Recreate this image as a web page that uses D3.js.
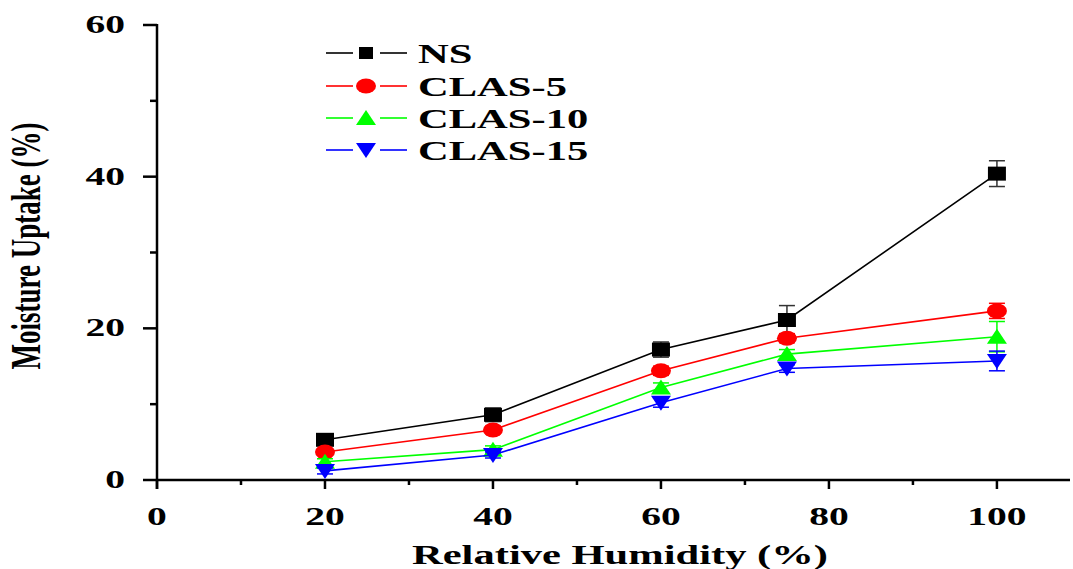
<!DOCTYPE html>
<html>
<head>
<meta charset="utf-8">
<script src="https://cdn.jsdelivr.net/npm/d3@7"></script>
<style>
  body { margin: 0; background: #fff; }
  svg { display: block; }
  text { font-family: "Liberation Serif", "Times New Roman", serif; font-weight: bold; fill: #000; }
</style>
</head>
<body>
<script>
// data
var humidity = [20, 40, 60, 75, 100];
var seriesNames = ["NS", "CLAS-5", "CLAS-10", "CLAS-15"];
var seriesColors = ["#000000", "#ff0000", "#00ff00", "#0000ff"];
var seriesShapes = ["square", "circle", "up", "down"];
var nsValues = [5.3, 8.6, 17.2, 21.1, 40.4];
var clas5Values = [3.7, 6.6, 14.4, 18.7, 22.3];
var clas10Values = [2.4, 4.0, 12.2, 16.6, 18.9];
var clas15Values = [1.2, 3.3, 10.2, 14.7, 15.7];
var nsErrors = [0.5, 0.9, 1.0, 1.9, 1.7];
var clas5Errors = [0.4, 0.5, 0.6, 0.6, 1.0];
var clas10Errors = [0.4, 0.5, 0.6, 0.6, 2.0];
var clas15Errors = [0.4, 0.4, 0.6, 0.5, 1.3];
var xTicks = [0, 20, 40, 60, 80, 100];
var xMinor = [10, 30, 50, 70, 90];
var yTicks = [0, 20, 40, 60];
var yMinor = [10, 30, 50];

var values = [nsValues, clas5Values, clas10Values, clas15Values];
var errors = [nsErrors, clas5Errors, clas10Errors, clas15Errors];

var width = 1073, height = 569;
var stretch = 1.52; // the picture is stretched sideways

var svg = d3.select("body").append("svg")
    .attr("width", width)
    .attr("height", height);

var x = d3.scaleLinear().domain([0, 108.7]).range([157, 1070]);
var y = d3.scaleLinear().domain([0, 60]).range([480, 25]);

// marker paths, centred at 0,0
function markerPath(shape) {
    if (shape == "square") return "M-9,-7H9V7H-9Z";
    if (shape == "up") return "M0,-8L10,7H-10Z";
    if (shape == "down") return "M0,8L10,-7H-10Z";
    return null;
}
function addMarker(g, shape, color) {
    if (shape == "circle") {
        return g.append("ellipse").attr("rx", 10).attr("ry", 7.5).attr("fill", color);
    }
    return g.append("path").attr("d", markerPath(shape)).attr("fill", color);
}

// axes
var axisG = svg.append("g").attr("class", "axes");
axisG.append("line")
    .attr("x1", x(0)).attr("x2", 1070)
    .attr("y1", y(0)).attr("y2", y(0))
    .attr("stroke", "#000").attr("stroke-width", 2.5);
axisG.append("line")
    .attr("x1", x(0)).attr("x2", x(0))
    .attr("y1", y(60) - 1).attr("y2", y(0) + 9)
    .attr("stroke", "#000").attr("stroke-width", 2.5);

axisG.selectAll("line.xmaj").data(xTicks).join("line")
    .attr("class", "xmaj")
    .attr("x1", d => x(d)).attr("x2", d => x(d))
    .attr("y1", y(0)).attr("y2", y(0) + 9)
    .attr("stroke", "#000").attr("stroke-width", 2.5);
axisG.selectAll("line.xmin").data(xMinor).join("line")
    .attr("class", "xmin")
    .attr("x1", d => x(d)).attr("x2", d => x(d))
    .attr("y1", y(0)).attr("y2", y(0) + 5)
    .attr("stroke", "#000").attr("stroke-width", 2.5);
axisG.selectAll("line.ymaj").data(yTicks).join("line")
    .attr("class", "ymaj")
    .attr("x1", x(0) - 14).attr("x2", x(0))
    .attr("y1", d => y(d)).attr("y2", d => y(d))
    .attr("stroke", "#000").attr("stroke-width", 2.5);
axisG.selectAll("line.ymin").data(yMinor).join("line")
    .attr("class", "ymin")
    .attr("x1", x(0) - 7).attr("x2", x(0))
    .attr("y1", d => y(d)).attr("y2", d => y(d))
    .attr("stroke", "#000").attr("stroke-width", 2.5);

axisG.selectAll("text.xlab").data(xTicks).join("text")
    .attr("class", "xlab")
    .attr("transform", d => "translate(" + x(d) + ",525) scale(" + stretch + ",1)")
    .attr("text-anchor", "middle")
    .style("font-size", "26px")
    .text(d => d);
axisG.selectAll("text.ylab").data(yTicks).join("text")
    .attr("class", "ylab")
    .attr("transform", d => "translate(125," + (y(d) + 8) + ") scale(" + stretch + ",1)")
    .attr("text-anchor", "end")
    .style("font-size", "26px")
    .text(d => d);

svg.append("text")
    .attr("transform", "translate(620,564) scale(" + stretch + ",1)")
    .attr("text-anchor", "middle")
    .style("font-size", "28px")
    .text("Relative Humidity (%)");
svg.append("text")
    .attr("transform", "translate(40,246) scale(1.57,1) rotate(-90)")
    .attr("text-anchor", "middle")
    .style("font-size", "27px")
    .text("Moisture Uptake (%)");

// series
var line = d3.line().x((d, i) => x(humidity[i])).y(d => y(d));
var plot = svg.append("g").attr("class", "series");

values.forEach(function (vals, s) {
    var color = seriesColors[s];
    var g = plot.append("g");
    g.append("path")
        .attr("d", line(vals))
        .attr("fill", "none")
        .attr("stroke", color)
        .attr("stroke-width", 1.6);

    // error bars
    var eb = g.selectAll("g.err").data(vals).join("g").attr("class", "err");
    eb.append("line")
        .attr("x1", (d, i) => x(humidity[i])).attr("x2", (d, i) => x(humidity[i]))
        .attr("y1", (d, i) => y(d + errors[s][i])).attr("y2", (d, i) => y(d - errors[s][i]))
        .attr("stroke", s == 0 ? "#333" : color).attr("stroke-width", 1.5);
    [1, -1].forEach(function (sign) {
        eb.append("line")
            .attr("x1", (d, i) => x(humidity[i]) - 8).attr("x2", (d, i) => x(humidity[i]) + 8)
            .attr("y1", (d, i) => y(d + sign * errors[s][i])).attr("y2", (d, i) => y(d + sign * errors[s][i]))
            .attr("stroke", s == 0 ? "#333" : color).attr("stroke-width", 1.5);
    });

    vals.forEach(function (v, i) {
        var m = g.append("g").attr("transform", "translate(" + x(humidity[i]) + "," + y(v) + ")");
        addMarker(m, seriesShapes[s], color);
    });
});

// legend
var legendRows = [53, 86, 118, 150];
var legend = svg.append("g").attr("class", "legend");
seriesNames.forEach(function (name, s) {
    var ly = legendRows[s];
    var color = seriesColors[s];
    legend.append("line").attr("x1", 326).attr("x2", 353).attr("y1", ly).attr("y2", ly)
        .attr("stroke", color).attr("stroke-width", 1.6);
    legend.append("line").attr("x1", 380).attr("x2", 407).attr("y1", ly).attr("y2", ly)
        .attr("stroke", color).attr("stroke-width", 1.6);
    var m = legend.append("g").attr("transform", "translate(366," + ly + ")");
    if (seriesShapes[s] == "square") {
        m.append("path").attr("d", "M-7,-6H7V6H-7Z").attr("fill", color);
    } else {
        addMarker(m, seriesShapes[s], color);
    }
    legend.append("text")
        .attr("transform", "translate(418," + (ly + 10) + ") scale(" + stretch + ",1)")
        .style("font-size", "28px")
        .text(name);
});
</script>
</body>
</html>
